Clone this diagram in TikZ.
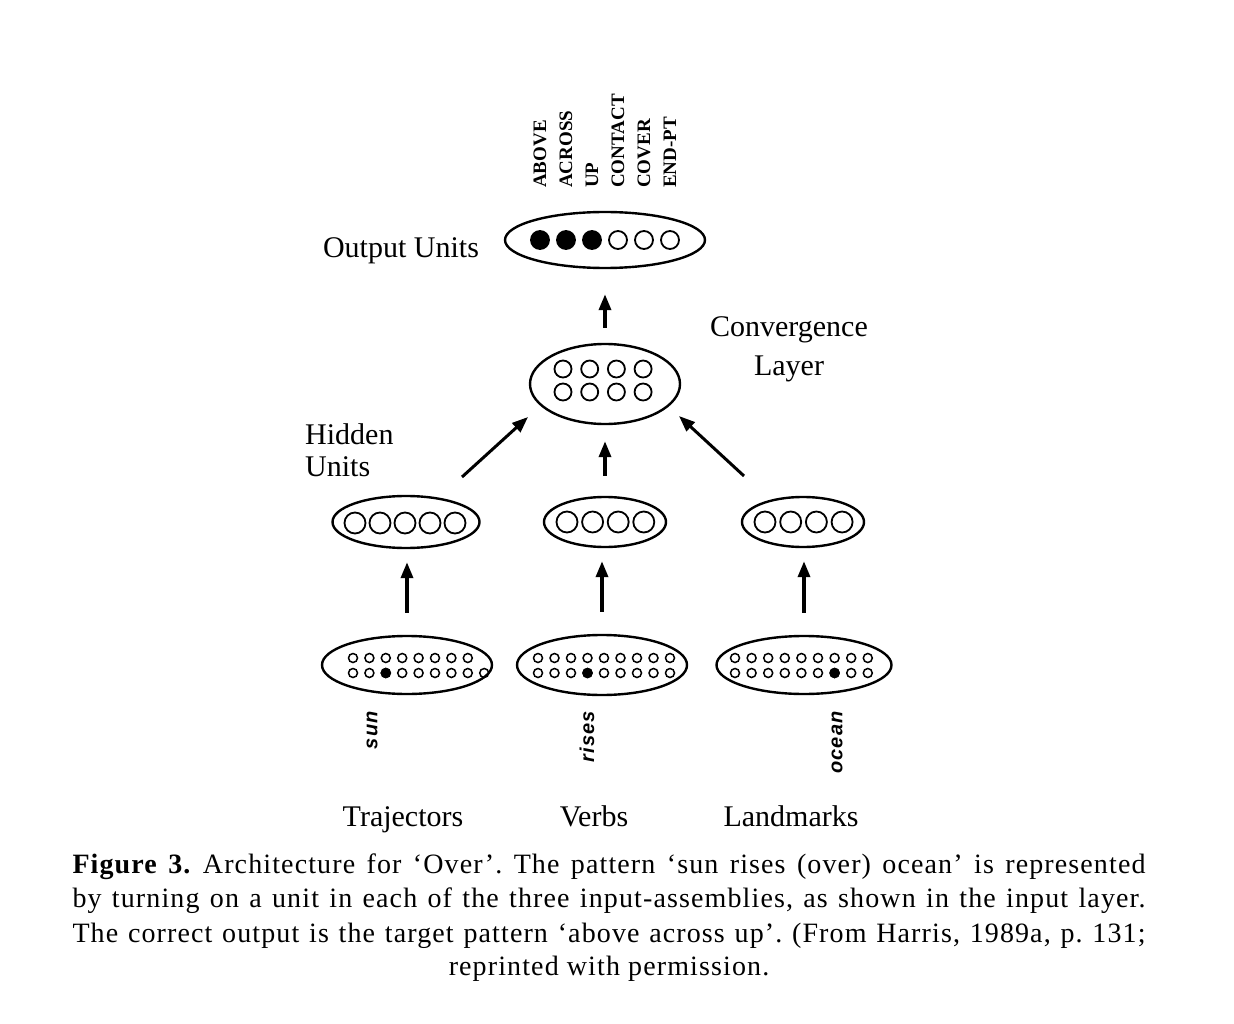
\documentclass[tikz,border=0pt]{standalone}
\usepackage{fontspec}
\setmainfont{Liberation Serif}
\newfontfamily\capfont[Ligatures=TeX,LetterSpace=4]{Liberation Serif}
\newfontfamily\wordfont[LetterSpace=6]{Liberation Sans}
\usetikzlibrary{shapes.geometric,arrows.meta}
\begin{document}
\begin{tikzpicture}[x=1pt,y=-1pt,
    assembly/.style={draw, ellipse, line width=2.4pt, inner sep=0pt},
    unit/.style={draw, circle, line width=1.8pt, inner sep=0pt, minimum size=#1},
    unit/.default=18pt,
    small/.style={draw, circle, line width=1.5pt, inner sep=0pt, minimum size=9pt},
    active/.style={fill=black},
    arr/.style={line width=3.5pt, -{Triangle[length=16pt,width=12pt]}},
    lab/.style={font=\fontsize{30}{36}\selectfont, inner sep=0pt},
    wordlab/.style={font=\wordfont\bfseries\itshape\fontsize{20}{24}\selectfont, rotate=90, anchor=east, inner sep=0pt},
    outlab/.style={font=\bfseries\fontsize{19}{22}\selectfont, rotate=90, anchor=west, inner sep=0pt},
    caption/.style={font=\capfont\frenchspacing\fontsize{28}{32}\selectfont, anchor=base, inner sep=0pt}]
    \useasboundingbox (0,0) rectangle (1234,1024);

    % output units
    \node[assembly, minimum width=200pt, minimum height=56pt] (out) at (605,240) {};
    \foreach \i in {1,2,3}
        \node[unit, active] (o\i) at ({540+26*(\i-1)},240) {};
    \foreach \i in {4,5,6}
        \node[unit] (o\i) at ({540+26*(\i-1)},240) {};
    \foreach \i/\txt in {1/ABOVE,2/ACROSS,3/UP,4/CONTACT,5/COVER,6/END-PT}
        \node[outlab] (ol\i) at ({540+26*(\i-1)},188) {\txt};
    \node[lab, anchor=base] (outname) at (401,258) {Output Units};

    % convergence layer
    \node[assembly, minimum width=150pt, minimum height=80pt] (conv) at (605,384) {};
    \foreach \i in {1,...,4} {
        \node[unit=17pt] (ca\i) at ({563+26.7*(\i-1)},369) {};
        \node[unit=17pt] (cb\i) at ({563+26.7*(\i-1)},392) {};
    }
    \node[lab, anchor=base] (convname) at (789,336) {Convergence};
    \node[lab, anchor=base] (convname2) at (789,375) {Layer};

    % hidden units
    \node[assembly, minimum width=147pt, minimum height=52pt] (hidT) at (406,522) {};
    \node[assembly, minimum width=122pt, minimum height=50pt] (hidV) at (605,522) {};
    \node[assembly, minimum width=122pt, minimum height=50pt] (hidL) at (803,522) {};
    \foreach \i in {1,...,5}
        \node[unit=21pt] (ht\i) at ({355+25*(\i-1)},523) {};
    \foreach \i in {1,...,4} {
        \node[unit=21pt] (hv\i) at ({567+25.6*(\i-1)},522) {};
        \node[unit=21pt] (hl\i) at ({765+25.7*(\i-1)},522) {};
    }
    \node[lab, anchor=base west] (hidname) at (305,444) {Hidden};
    \node[lab, anchor=base west] (hidname2) at (305,476) {Units};

    % input layer
    \node[assembly, minimum width=170pt, minimum height=58pt] (inT) at (407,665) {};
    \node[assembly, minimum width=170pt, minimum height=60pt] (inV) at (602,665) {};
    \node[assembly, minimum width=175pt, minimum height=58pt] (inL) at (804,665) {};
    \foreach \i in {1,...,8}
        \node[small] (ta\i) at ({353+16.4*(\i-1)},658) {};
    \foreach \i in {1,...,9} {
        \node[small] (tb\i) at ({353+16.4*(\i-1)},673) {};
        \node[small] (va\i) at ({538+16.5*(\i-1)},658) {};
        \node[small] (vb\i) at ({538+16.5*(\i-1)},673) {};
        \node[small] (la\i) at ({735+16.6*(\i-1)},658) {};
        \node[small] (lb\i) at ({735+16.6*(\i-1)},673) {};
    }
    \node[small, active] at (tb3) {};
    \node[small, active] at (vb4) {};
    \node[small, active] at (lb7) {};

    \node[wordlab] (sun) at (372,711) {sun};
    \node[wordlab] (rises) at (587,711) {rises};
    \node[wordlab] (ocean) at (837,711) {ocean};

    \node[lab, anchor=base] (traj) at (403,826) {Trajectors};
    \node[lab, anchor=base] (verbs) at (594,826) {Verbs};
    \node[lab, anchor=base] (land) at (791,826) {Landmarks};

    % connections
    \draw[arr, shorten <=22pt, shorten >=13pt] (inT.north) -- (inT.north |- hidT.south);
    \draw[arr, shorten <=22pt, shorten >=13pt] (inV.north) -- (inV.north |- hidV.south);
    \draw[arr, shorten <=22pt, shorten >=13pt] (inL.north) -- (inL.north |- hidL.south);
    \draw[arr, shorten <=20pt, shorten >=16pt] (hidV.north) -- (hidV.north |- conv.south);
    \coordinate (dl1) at (462,477);
    \coordinate (dl2) at (528,417);
    \coordinate (dr1) at (744,476);
    \coordinate (dr2) at (679,416);
    \draw[arr, line width=3pt] (dl1) -- (dl2);
    \draw[arr, line width=3pt] (dr1) -- (dr2);
    \draw[arr, shorten <=15pt, shorten >=25pt] (conv.north) -- (conv.north |- out.south);

    % caption
    \node[caption] (cap1) at (609,873) {\makebox[1073pt][s]{\textbf{Figure 3.} Architecture for `Over'. The pattern `sun rises (over) ocean' is represented}};
    \node[caption] (cap2) at (609,907) {\makebox[1073pt][s]{by turning on a unit in each of the three input-assemblies, as shown in the input layer.}};
    \node[caption] (cap3) at (609,942) {\makebox[1073pt][s]{The correct output is the target pattern `above across up'. (From Harris, 1989a, p. 131;}};
    \node[caption] (cap4) at (609,975) {reprinted with permission.};
\end{tikzpicture}
\end{document}
